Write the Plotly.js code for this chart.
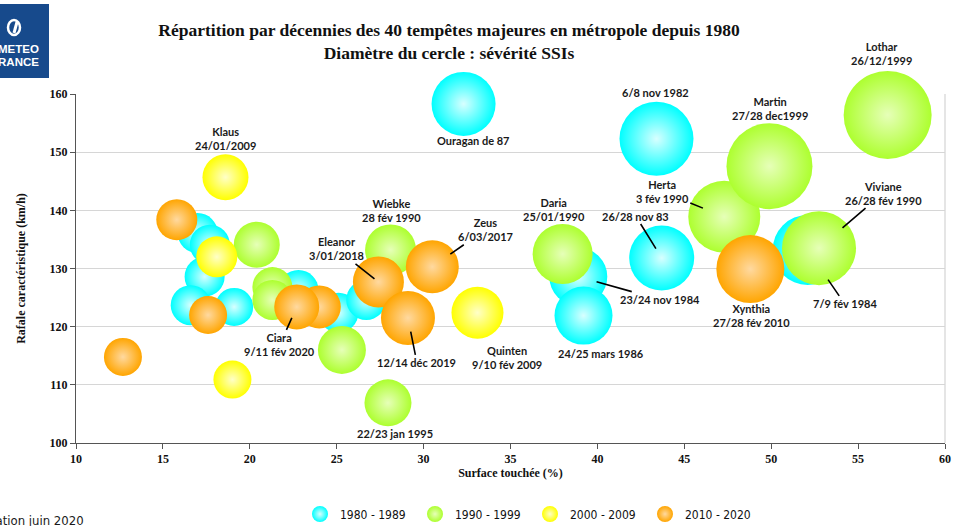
<!DOCTYPE html>
<html>
<head>
<meta charset="utf-8">
<script src="https://cdn.plot.ly/plotly-3.0.1.min.js"></script>
<style>
  html, body { margin: 0; padding: 0; background: #ffffff; }
  #chart { width: 961px; height: 526px; }
</style>
</head>
<body>
<div id="chart"></div>
<script>
// ---------- DATA ----------
const decennies = ["1980 - 1989", "1990 - 1999", "2000 - 2009", "2010 - 2020"];

// 1980 - 1989
const x80 = [17.0, 17.7, 17.4, 16.6, 19.1, 22.8, 25.1, 26.7, 52.1, 38.9, 39.2, 32.3, 43.4, 43.7];
const y80 = [136.1, 134.1, 128.6, 123.7, 123.4, 126.3, 122.4, 124.6, 133.2, 128.6, 121.9, 158.3, 152.3, 131.8];
const s80 = [40, 40, 40, 40, 38, 40, 40, 40, 70, 58, 58, 64, 74, 65];
const n80 = ["", "", "", "", "", "", "", "", "7/9 fév 1984", "23/24 nov 1984", "24/25 mars 1986", "Ouragan de 87", "6/8 nov 1982", "26/28 nov 83"];

// 1990 - 1999
const x90 = [20.4, 21.3, 21.3, 25.3, 28.1, 27.95, 38.0, 47.3, 49.9, 52.75, 56.7];
const y90 = [134.1, 126.8, 124.6, 116.0, 133.2, 106.9, 132.5, 138.9, 147.6, 133.5, 156.4];
const s90 = [46, 40, 40, 48, 51, 47, 60, 72, 86, 74, 88];
const n90 = ["", "", "", "", "Wiebke<br>28 fév 1990", "22/23 jan 1995", "Daria<br>25/01/1990", "Herta<br>3 fév 1990", "Martin<br>27/28 dec1999", "Viviane<br>26/28 fév 1990", "Lothar<br>26/12/1999"];

// 2000 - 2009
const x00 = [18.6, 18.1, 33.1, 19.0];
const y00 = [145.7, 132.0, 122.4, 110.9];
const s00 = [46, 41, 52, 38];
const n00 = ["Klaus<br>24/01/2009", "", "Quinten<br>9/10 fév 2009", ""];

// 2010 - 2020
const x10 = [15.8, 17.6, 12.7, 24.0, 22.7, 27.4, 30.5, 29.1, 48.8];
const y10 = [138.4, 122.0, 114.8, 123.4, 123.4, 127.7, 130.3, 121.5, 129.9];
const s10 = [41, 38, 38, 43, 45, 51, 53, 54, 68];
const n10 = ["", "", "", "", "Ciara<br>9/11 fév 2020", "Eleanor<br>3/01/2018", "Zeus<br>6/03/2017", "12/14 déc 2019", "Xynthia<br>27/28 fév 2010"];

const xTicks = [10, 15, 20, 25, 30, 35, 40, 45, 50, 55, 60];
const yTicks = [100, 110, 120, 130, 140, 150, 160];

// ---------- STYLES ----------
const colours = ["#00ffff", "#adff2f", "#ffff00", "#ffa500"];
const centres = ["#d8ffff", "#e6ffb8", "#ffffc8", "#ffd9a0"];

// label placement (pixel offsets), styling only
const placement = {
  "Klaus<br>24/01/2009": {dx: 0, dy: -39},
  "Ouragan de 87": {dx: 9, dy: 37},
  "6/8 nov 1982": {dx: -1, dy: -46},
  "Martin<br>27/28 dec1999": {dx: 1, dy: -58},
  "Lothar<br>26/12/1999": {dx: -6, dy: -61},
  "Xynthia<br>27/28 fév 2010": {dx: 1, dy: 46},
  "Daria<br>25/01/1990": {dx: -9, dy: -44},
  "24/25 mars 1986": {dx: 17, dy: 38},
  "Wiebke<br>28 fév 1990": {dx: 1, dy: -39},
  "Quinten<br>9/10 fév 2009": {dx: 30, dy: 45},
  "22/23 jan 1995": {dx: 7, dy: 31},
  "Herta<br>3 fév 1990": {dx: -62, dy: -25, arrow: true, so: 23},
  "Viviane<br>26/28 fév 1990": {dx: 64, dy: -55, arrow: true, so: 31},
  "7/9 fév 1984": {dx: 37, dy: 54, arrow: true, so: 36},
  "26/28 nov 83": {dx: -26, dy: -42, arrow: true, so: 11},
  "23/24 nov 1984": {dx: 82, dy: 23, arrow: true, so: 19},
  "Eleanor<br>3/01/2018": {dx: -42, dy: -33, arrow: true, so: 5},
  "Zeus<br>6/03/2017": {dx: 53, dy: -37, arrow: true, so: 22},
  "12/14 déc 2019": {dx: 9, dy: 45, arrow: true, so: 14},
  "Ciara<br>9/11 fév 2020": {dx: -17, dy: 38, arrow: true, so: 12}
};

const series = [[x80, y80, s80, n80], [x90, y90, s90, n90], [x00, y00, s00, n00], [x10, y10, s10, n10]];

const traces = series.map((d, k) => ({
  type: "scatter",
  mode: "markers",
  name: decennies[k],
  x: d[0],
  y: d[1],
  cliponaxis: false,
  marker: {
    size: d[2],
    sizemode: "diameter",
    color: colours[k],
    opacity: 1,
    line: {width: 0},
    gradient: {type: "radial", color: centres[k]}
  },
  hoverinfo: "skip"
}));

const labelFont = {family: "Lato, 'Open Sans', sans-serif", size: 11, color: "#1a1a1a", weight: 700};

const annotations = [];
series.forEach(d => {
  d[3].forEach((name, i) => {
    if (!name) return;
    const p = placement[name];
    if (p.arrow) {
      annotations.push({
        x: d[0][i], y: d[1][i], xref: "x", yref: "y",
        text: name, showarrow: true, arrowhead: 0, arrowwidth: 1.6, arrowcolor: "#000",
        ax: p.dx, ay: p.dy, standoff: p.so, font: labelFont, align: "center"
      });
    } else {
      annotations.push({
        x: d[0][i], y: d[1][i], xref: "x", yref: "y",
        text: name, showarrow: false, xshift: p.dx, yshift: -p.dy,
        font: labelFont, align: "center"
      });
    }
  });
});

// plot area geometry for decorations outside it
const L = 76, R = 16, T = 94, B = 83, W = 961, H = 526;
const PW = W - L - R, PH = H - T - B;
const px = v => (v - L) / PW;
const py = v => (H - B - v) / PH;

const condensed = "'DejaVu Sans Condensed', 'Liberation Sans Narrow', 'Liberation Sans', sans-serif";

annotations.push({
  xref: "paper", yref: "paper", x: px(41), y: py(49), xanchor: "right", yanchor: "middle",
  text: "<b>METEO</b>", showarrow: false,
  font: {family: "'Liberation Sans', Arial, sans-serif", size: 11.5, color: "#ffffff"}
});
annotations.push({
  xref: "paper", yref: "paper", x: px(41), y: py(62), xanchor: "right", yanchor: "middle",
  text: "<b>FRANCE</b>", showarrow: false,
  font: {family: "'Liberation Sans', Arial, sans-serif", size: 11.5, color: "#ffffff"}
});
annotations.push({
  xref: "paper", yref: "paper", x: px(86), y: py(520), xanchor: "right", yanchor: "middle",
  text: "Réalisation juin 2020", showarrow: false,
  font: {family: condensed, size: 13, color: "#1a1a1a"}
});

const shapes = [
  {type: "rect", xref: "paper", yref: "paper", x0: px(0), x1: px(49), y0: py(78), y1: py(4),
   fillcolor: "#174a8c", line: {width: 0}, layer: "above"},
  {type: "circle", xref: "paper", yref: "paper", x0: px(8), x1: px(20), y0: py(35), y1: py(20),
   fillcolor: "rgba(0,0,0,0)", line: {width: 2.5, color: "#ffffff"}, layer: "above"},
  {type: "line", xref: "paper", yref: "paper", x0: px(14), x1: px(17), y0: py(33), y1: py(22),
   line: {width: 3, color: "#ffffff"}, layer: "above"},
  {type: "line", xref: "paper", yref: "paper", x0: 1, x1: 1, y0: 0, y1: 1,
   line: {color: "#d4d4d4", width: 1.2}, layer: "below"}
];

const serifBold = {family: "'Liberation Serif', 'DejaVu Serif', serif", size: 12, color: "#111", weight: 700};

const layout = {
  width: W, height: H,
  margin: {l: L, r: R, t: T, b: B, pad: 0, autoexpand: false},
  paper_bgcolor: "#ffffff",
  plot_bgcolor: "#ffffff",
  title: {
    text: "Répartition par décennies des 40 tempêtes majeures en métropole depuis 1980<br>Diamètre du cercle : sévérité SSIs",
    font: {family: "'Liberation Serif', 'DejaVu Serif', serif", size: 17.5, color: "#111", weight: 700},
    xref: "paper", x: px(449), xanchor: "center",
    yref: "container", y: 1 - 36 / H, yanchor: "top"
  },
  xaxis: {
    range: [10, 60], tickvals: xTicks, ticktext: xTicks.map(String),
    showgrid: false, zeroline: false, automargin: false,
    showline: true, linecolor: "#555", linewidth: 1,
    ticks: "outside", ticklen: 5, tickcolor: "#555",
    tickfont: serifBold,
    title: {text: "Surface touchée (%)", font: serifBold, standoff: 1}
  },
  yaxis: {
    range: [100, 160], tickvals: yTicks, ticktext: yTicks.map(String),
    showgrid: true, gridcolor: "#d6d6d6", gridwidth: 1.2, zeroline: false, automargin: false,
    showline: true, linecolor: "#555", linewidth: 1,
    ticks: "outside", ticklen: 5, tickcolor: "#555",
    tickfont: serifBold,
    title: {text: "Rafale caractéristique (km/h)", font: serifBold, standoff: 21}
  },
  showlegend: true,
  legend: {
    orientation: "h", xref: "container", yref: "container",
    x: 530 / W, xanchor: "center", y: 1 - 514 / H, yanchor: "middle",
    font: {family: condensed, size: 12, color: "#111"},
    itemsizing: "trace", entrywidth: 70, entrywidthmode: "pixels",
    bgcolor: "rgba(0,0,0,0)"
  },
  annotations: annotations,
  shapes: shapes,
  hovermode: false
};

Plotly.newPlot("chart", traces, layout, {staticPlot: true, displayModeBar: false});
</script>
</body>
</html>
